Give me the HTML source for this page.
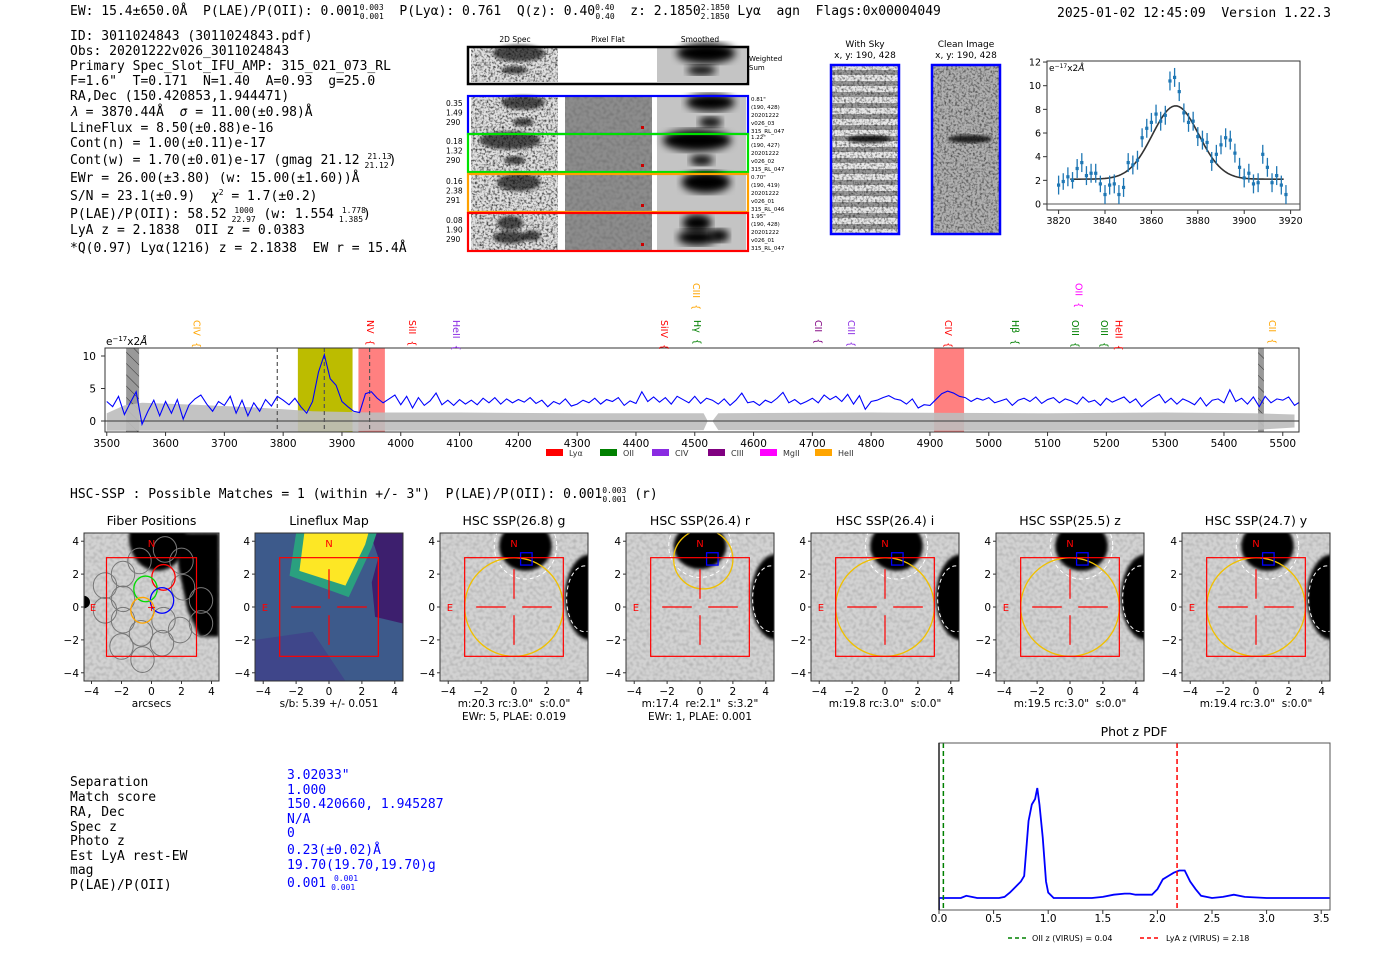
<!DOCTYPE html>
<html><head><meta charset="utf-8">
<style>
html,body{margin:0;padding:0;background:#fff;}
svg{display:block;}
text{white-space:pre;}
.mono{font-family:"DejaVu Sans Mono","Liberation Mono",monospace;}
.sans{font-family:"DejaVu Sans","Liberation Sans",sans-serif;}
</style></head>
<body>
<svg id="fig" width="1400" height="953" viewBox="0 0 1400 953" xmlns="http://www.w3.org/2000/svg" xml:space="preserve">
<defs>
<filter id="nz" x="0" y="0" width="100%" height="100%"><feTurbulence type="fractalNoise" baseFrequency="0.45" numOctaves="2" seed="3"/><feColorMatrix type="matrix" values="0 0 0 0 0  0 0 0 0 0  0 0 0 0 0  -2.4 0 0 0 1.35"/></filter>
<filter id="nz2" x="0" y="0" width="100%" height="100%"><feTurbulence type="fractalNoise" baseFrequency="0.3" numOctaves="1" seed="7"/><feColorMatrix type="matrix" values="0 0 0 0 0  0 0 0 0 0  0 0 0 0 0  -1.6 0 0 0 0.95"/></filter>
<filter id="bl"><feGaussianBlur stdDeviation="4"/></filter>
<filter id="bl2"><feGaussianBlur stdDeviation="1.5"/></filter>
<pattern id="hatch" width="8" height="8" patternUnits="userSpaceOnUse" patternTransform="rotate(-45)"><rect width="8" height="8" fill="#999"/><line x1="0" y1="0" x2="0" y2="8" stroke="#333" stroke-width="1"/></pattern>
<clipPath id="specclip"><rect x="105" y="348" width="1194" height="84"/></clipPath>
<clipPath id="fitclip"><rect x="1047" y="61" width="253" height="149"/></clipPath>
<clipPath id="pdfclip"><rect x="939" y="743" width="391" height="167"/></clipPath>
</defs>

<g class="mono" font-size="13" fill="#000">
<text x="70" y="15">EW: 15.4±650.0Å  P(LAE)/P(OII): 0.001<tspan font-size="8" dy="-5">0.003</tspan><tspan font-size="8" dx="-24" dy="9">0.001</tspan><tspan dy="-4">  P(Lyα): 0.761  Q(z): 0.40</tspan><tspan font-size="8" dy="-5">0.40</tspan><tspan font-size="8" dx="-19" dy="9">0.40</tspan><tspan dy="-4">  z: 2.1850</tspan><tspan font-size="8" dy="-5">2.1850</tspan><tspan font-size="8" dx="-29" dy="9">2.1850</tspan><tspan dy="-4"> Lyα  agn  Flags:0x00004049</tspan></text>
<text x="1057" y="17">2025-01-02 12:45:09  Version 1.22.3</text>
</g>

<g class="mono" font-size="13" fill="#000">
<text x="70" y="40">ID: 3011024843 (3011024843.pdf)</text>
<text x="70" y="55">Obs: 20201222v026_3011024843</text>
<text x="70" y="70">Primary Spec_Slot_IFU_AMP: 315_021_073_RL</text>
<text x="70" y="85">F=1.6"  T=0.171  N=1.40  A=0.93  g=25.0</text>
<text x="70" y="100">RA,Dec (150.420853,1.944471)</text>
<text x="70" y="116"><tspan font-style="italic">λ</tspan> = 3870.44Å  <tspan font-style="italic">σ</tspan> = 11.00(±0.98)Å</text>
<text x="70" y="132">LineFlux = 8.50(±0.88)e-16</text>
<text x="70" y="147">Cont(n) = 1.00(±0.11)e-17</text>
<text x="70" y="164">Cont(w) = 1.70(±0.01)e-17 (gmag 21.12 <tspan font-size="8" dy="-5">21.13</tspan><tspan font-size="8" dx="-27" dy="9">21.12</tspan><tspan dy="-4">)</tspan></text>
<text x="70" y="182">EWr = 26.00(±3.80) (w: 15.00(±1.60))Å</text>
<text x="70" y="200">S/N = 23.1(±0.9)  <tspan font-style="italic">χ</tspan><tspan font-size="8" dy="-5">2</tspan><tspan dy="5"> = 1.7(±0.2)</tspan></text>
<text x="70" y="218">P(LAE)/P(OII): 58.52 <tspan font-size="8" dy="-5">1000</tspan><tspan font-size="8" dx="-22" dy="9">22.97</tspan><tspan dy="-4"> (w: 1.554 </tspan><tspan font-size="8" dy="-5">1.778</tspan><tspan font-size="8" dx="-27" dy="9">1.385</tspan><tspan dy="-4">)</tspan></text>
<text x="70" y="234">LyA z = 2.1838  OII z = 0.0383</text>
<text x="70" y="252">*Q(0.97) Lyα(1216) z = 2.1838  EW r = 15.4Å</text>
</g>

<g id="spec2d"></g>
<g id="skycut"></g>
<g id="fitpanel"></g>
<g id="specpanel"></g>

<text x="70" y="498" class="mono" font-size="13">HSC-SSP : Possible Matches = 1 (within +/- 3")  P(LAE)/P(OII): 0.001<tspan font-size="8" dy="-5">0.003</tspan><tspan font-size="8" dx="-24" dy="9">0.001</tspan><tspan dy="-4"> (r)</tspan></text>

<g id="cutouts"></g>

<g class="mono" font-size="13">
<g fill="#000">
<text x="70" y="786">Separation</text><text x="70" y="801">Match score</text><text x="70" y="816">RA, Dec</text><text x="70" y="831">Spec z</text><text x="70" y="845">Photo z</text><text x="70" y="860">Est LyA rest-EW</text><text x="70" y="874">mag</text><text x="70" y="889">P(LAE)/P(OII)</text>
</g>
<g fill="#0000ff">
<text x="287" y="779">3.02033"</text><text x="287" y="794">1.000</text><text x="287" y="808">150.420660, 1.945287</text><text x="287" y="823">N/A</text><text x="287" y="837">0</text><text x="287" y="854">0.23(±0.02)Å</text><text x="287" y="869">19.70(19.70,19.70)g</text><text x="287" y="887">0.001 <tspan font-size="8" dy="-6">0.001</tspan><tspan font-size="8" dx="-27" dy="9">0.001</tspan></text>
</g>
</g>

<g id="pdfpanel"></g>
</svg>

<script>
const specStart = 3500, specStep = 10;
const specFlux = [3.0,2.2,3.8,1.0,2.8,4.5,-0.5,1.5,3.2,0.8,
3.0,1.2,3.3,0.3,2.5,3.4,4.0,2.6,1.5,3.0,
2.4,3.8,1.2,3.2,0.8,2.8,1.5,3.3,2.3,3.8,
3.2,2.5,3.5,2.2,1.2,3.0,7.5,10.2,6.5,5.5,
3.0,2.2,1.5,1.3,4.2,4.5,3.5,2.8,3.4,4.0,
2.5,3.8,2.0,3.6,2.4,3.1,4.3,2.5,3.2,2.4,
3.3,2.6,3.2,2.5,3.5,2.8,3.6,2.6,3.4,2.8,
3.3,2.9,3.6,2.7,3.2,2.2,3.0,2.6,3.4,2.3,
2.6,3.2,2.8,3.5,2.6,3.3,3.0,3.6,2.4,3.1,
2.7,4.5,3.0,3.7,2.9,3.6,2.6,3.8,3.3,2.8,
3.8,2.7,3.5,3.2,2.6,3.4,2.4,3.2,4.3,2.8,
3.0,2.4,3.2,2.8,3.5,4.4,2.8,3.3,2.6,3.0,
3.5,2.8,4.0,3.3,3.8,3.0,4.1,2.6,3.9,1.8,
3.0,3.2,3.6,3.9,3.4,3.2,2.6,3.4,2.0,2.5,
2.4,3.3,4.2,4.6,4.3,3.8,3.6,3.0,3.5,3.2,
3.6,2.8,3.1,3.4,2.4,3.2,3.5,3.0,3.7,2.7,
3.3,3.6,2.8,3.4,3.1,2.6,3.7,2.9,3.2,2.4,
3.5,2.9,3.3,3.7,2.8,3.4,2.2,3.0,3.6,4.1,
2.8,3.5,2.6,3.4,3.0,2.5,3.6,2.3,3.2,3.4,
2.8,4.8,3.0,3.5,2.6,3.7,2.2,3.8,2.8,3.4,
3.2,3.7,2.4,3.0];
const errWave = [3500,3530,3560,3650,3750,3800,3850,3900,3950,4100,4300,4515,4522,4530,4540,4800,5100,5300,5450,5520];
const errHi   = [1.2,2.4,2.8,2.5,2.1,1.8,1.5,1.4,1.3,1.3,1.2,1.2,0,0,1.2,1.3,1.2,1.3,1.2,1.0];
const errLo   = [-1.5,-1.5,-1.5,-1.5,-1.6,-1.6,-1.7,-1.6,-1.5,-1.5,-1.5,-1.4,0,0,-1.4,-1.5,-1.5,-1.4,-1.4,-1.0];
const specTicks = [3500,3600,3700,3800,3900,4000,4100,4200,4300,4400,4500,4600,4700,4800,4900,5000,5100,5200,5300,5400,5500];
const specYTicks = [0,5,10];
const lineNames  = ["CIV","NV","SiII","HeII","SiIV","CIII","Hγ","CII","CIII","CIV","Hβ","OIII","OII","OIII","HeII","CII"];
const lineWaves  = [3653,3948,4019,4094,4448,4502,4504,4710,4766,4931,5045,5147,5153,5196,5221,5482];
const lineColors = ["#ffa500","#ff0000","#ff0000","#8a2be2","#ff0000","#ffa500","#008000","#800080","#8a2be2","#ff0000","#008000","#008000","#ff00ff","#008000","#ff0000","#ffa500"];
const lineHigh   = [0,0,0,0,0,1,0,0,0,0,0,0,1,0,0,0];
const legNames = ["Lyα","OII","CIV","CIII","MgII","HeII"];
const legColors = ["#ff0000","#008000","#8a2be2","#800080","#ff00ff","#ffa500"];

const fitWave = [3820,3822,3824,3826,3828,3830,3832,3834,3836,3838,3840,3842,3844,3846,3848,3850,3852,3854,3856,3858,3860,3862,3864,3866,3868,3870,3872,3874,3876,3878,3880,3882,3884,3886,3888,3890,3892,3894,3896,3898,3900,3902,3904,3906,3908,3910,3912,3914,3916,3918];
const fitFlux = [1.6,1.9,2.3,2.0,3.0,3.5,2.4,2.6,2.6,1.7,0.8,1.6,1.7,0.8,1.4,3.5,3.3,3.7,5.6,6.4,6.9,7.6,7.0,7.5,10.4,10.7,9.5,7.7,6.9,7.0,5.7,5.4,5.2,3.6,4.2,5.0,5.6,5.4,4.3,3.1,2.2,2.6,1.7,1.8,4.2,3.1,1.8,2.4,1.6,0.8];
const fitErr = [0.8,0.7,0.8,0.7,0.8,0.8,0.8,0.8,0.8,0.7,0.8,0.8,0.8,0.8,0.8,0.8,0.8,0.8,0.8,0.8,0.8,0.8,0.8,0.8,0.8,0.8,0.8,0.8,0.8,0.8,0.8,0.8,0.8,0.8,0.8,0.8,0.8,0.8,0.8,0.8,0.8,0.8,0.8,0.8,0.8,0.8,0.8,0.8,0.8,0.8];
const fitModel = [3870.44, 10.0, 6.2, 2.1];
const fitXTicks = [3820,3840,3860,3880,3900,3920];
const fitYTicks = [0,2,4,6,8,10,12];

const pdfZ = [0,0.05,0.1,0.15,0.2,0.25,0.3,0.35,0.4,0.5,0.55,0.6,0.65,0.7,0.75,0.78,0.8,0.82,0.85,0.88,0.9,0.92,0.95,0.98,1.0,1.05,1.2,1.4,1.5,1.6,1.7,1.75,1.8,1.9,1.95,2.0,2.05,2.1,2.15,2.2,2.25,2.3,2.35,2.4,2.5,2.6,2.7,2.8,3.0,3.3,3.6];
const pdfP = [0,0,0,0,0,0.02,0.01,0,0,0,0,0.01,0.05,0.1,0.15,0.2,0.45,0.7,0.85,0.9,1.0,0.85,0.55,0.15,0.05,0,0,0,0.01,0.03,0.04,0.04,0.03,0.03,0.03,0.08,0.17,0.2,0.23,0.25,0.25,0.15,0.08,0.02,0,0.01,0.03,0.01,0,0,0];
const pdfTicks = [0.0,0.5,1.0,1.5,2.0,2.5,3.0,3.5];
const zOII = 0.04, zLya = 2.18;

const NS="http://www.w3.org/2000/svg";
function mk(parent, tag, attrs, txt){const e=document.createElementNS(NS,tag);for(const k in attrs)e.setAttribute(k,attrs[k]);if(txt!==undefined)e.textContent=txt;parent.appendChild(e);return e;}
const SANS='"DejaVu Sans","Liberation Sans",sans-serif';

(function(){
  const g=document.getElementById('specpanel');
  const X=w=>105+(w-3497)*0.588, Y=f=>421-f*6.5;
  const cg=mk(g,'g',{'clip-path':'url(#specclip)'});
  let r;
  r=mk(cg,'rect',{x:X(3533),y:348,width:X(3555)-X(3533),height:84,fill:'url(#hatch)'});
  
  r=mk(cg,'rect',{x:X(3825),y:348,width:X(3918)-X(3825),height:84,fill:'#bcbc00'});
  
  r=mk(cg,'rect',{x:X(3928),y:348,width:X(3973)-X(3928),height:84,fill:'#ff8080'});
  
  r=mk(cg,'rect',{x:X(4907),y:348,width:X(4958)-X(4907),height:84,fill:'#ff8080'});
  
  r=mk(cg,'rect',{x:X(5458),y:348,width:X(5468)-X(5458),height:84,fill:'url(#hatch)'});
  
  let pts=[];
  for(let i=0;i<errWave.length;i++)pts.push(X(errWave[i])+','+Y(errHi[i]));
  for(let i=errWave.length-1;i>=0;i--)pts.push(X(errWave[i])+','+Y(errLo[i]));
  const band=mk(cg,'polygon',{points:pts.join(' '),fill:'#bdbdbd','fill-opacity':0.9});
  
  mk(cg,'line',{x1:105,x2:1299,y1:Y(0),y2:Y(0),stroke:'#555','stroke-width':1.2});
  [3790,3870,3947].forEach(w=>{mk(cg,'line',{x1:X(w),x2:X(w),y1:348,y2:432,stroke:'#555','stroke-width':1.2,'stroke-dasharray':'4,3'});});
  const sp=specFlux.map((f,i)=>X(specStart+i*specStep)+','+Y(f)).join(' ');
  const pl=mk(cg,'polyline',{points:sp,fill:'none',stroke:'#0000ff','stroke-width':1.1});
  
  mk(g,'rect',{x:105,y:348,width:1194,height:84,fill:'none',stroke:'#333','stroke-width':1});
  specTicks.forEach(t=>{mk(g,'line',{x1:X(t),x2:X(t),y1:432,y2:436,stroke:'#333'});
    const tx=mk(g,'text',{x:X(t),y:447,'text-anchor':'middle','font-size':10.5,'font-family':SANS},t);
    });
  specYTicks.forEach(t=>{mk(g,'line',{x1:101,x2:105,y1:Y(t),y2:Y(t),stroke:'#333'});
    mk(g,'text',{x:96,y:Y(t)+4,'text-anchor':'end','font-size':10.5,'font-family':SANS},t);});
  const u=mk(g,'text',{x:106,y:345,'font-size':10.5,'font-family':SANS},'');
  u.innerHTML='e<tspan font-size="7" dy="-4">−17</tspan><tspan dy="4">x2</tspan><tspan font-style="italic">Å</tspan>';
  
  lineNames.forEach((n,i)=>{const x=X(lineWaves[i]);const top=lineHigh[i]?283:320;
    const t=mk(g,'text',{x:0,y:0,transform:`translate(${x-3},${top}) rotate(90)`,'font-size':9.5,'font-family':SANS,fill:lineColors[i]},n+'  {');
    });
  const lx=[546,600,652,708,760,815];
  legNames.forEach((n,i)=>{const r=mk(g,'rect',{x:lx[i],y:449,width:17,height:7,fill:legColors[i]});
    
    mk(g,'text',{x:lx[i]+23,y:456,'font-size':8,'font-family':SANS,fill:'#333'},n);});
})();

(function(){
  const g=document.getElementById('fitpanel');
  const X=w=>1047+(w-3815)*2.32, Y=f=>204-f*11.83;
  mk(g,'rect',{x:1047,y:61,width:253,height:149,fill:'#fff',stroke:'#333'});
  const cg=mk(g,'g',{'clip-path':'url(#fitclip)'});
  mk(cg,'line',{x1:1047,x2:1300,y1:Y(0),y2:Y(0),stroke:'#555'});
  let m=[];for(let w=3825;w<=3917;w+=1){const[c,s,a,b]=fitModel;m.push(X(w)+','+Y(b+a*Math.exp(-0.5*((w-c)/s)**2)));}
  const ml=mk(cg,'polyline',{points:m.join(' '),fill:'none',stroke:'#333','stroke-width':1.6});
  
  fitWave.forEach((w,i)=>{
    mk(cg,'line',{x1:X(w),x2:X(w),y1:Y(fitFlux[i]-fitErr[i]),y2:Y(fitFlux[i]+fitErr[i]),stroke:'#1f77b4','stroke-width':1.3});
    const c=mk(cg,'rect',{x:X(w)-1.6,y:Y(fitFlux[i])-1.6,width:3.2,height:3.2,fill:'#1f77b4'});
    });
  fitXTicks.forEach(t=>{mk(g,'line',{x1:X(t),x2:X(t),y1:210,y2:214,stroke:'#333'});mk(g,'text',{x:X(t),y:224,'text-anchor':'middle','font-size':9.5,'font-family':SANS},t);});
  fitYTicks.forEach(t=>{mk(g,'line',{x1:1043,x2:1047,y1:Y(t),y2:Y(t),stroke:'#333'});mk(g,'text',{x:1041,y:Y(t)+3.5,'text-anchor':'end','font-size':9.5,'font-family':SANS},t);});
  const u=mk(g,'text',{x:1049,y:71,'font-size':9,'font-family':SANS},'');
  u.innerHTML='e<tspan font-size="6" dy="-3">−17</tspan><tspan dy="3">x2</tspan><tspan font-style="italic">Å</tspan>';
})();

(function(){
  const g=document.getElementById('spec2d');
  [['2D Spec',515],['Pixel Flat',608],['Smoothed',700]].forEach(([t,x])=>mk(g,'text',{x:x,y:42,'text-anchor':'middle','font-size':7.5,'font-family':SANS},t));
  function stamp(y,h,flat,blobs){
    mk(g,'rect',{x:471,y:y,width:87,height:h,fill:'#e0e0e0'});
    mk(g,'rect',{x:471,y:y,width:87,height:h,filter:'url(#nz)',fill:'#000',opacity:0.8});
    blobs.forEach(b=>mk(g,'ellipse',{cx:471+b[0]*87,cy:y+b[1]*h,rx:b[2]*87,ry:b[3]*h,fill:'#111',opacity:0.7,filter:'url(#bl2)'}));
    if(flat){mk(g,'rect',{x:565,y:y,width:87,height:h,fill:'#8c8c8c'});mk(g,'rect',{x:565,y:y,width:87,height:h,filter:'url(#nz2)',opacity:0.2});mk(g,'rect',{x:641,y:y+h-7,width:3,height:3,fill:'#c00'});}
    mk(g,'rect',{x:657,y:y,width:89,height:h,fill:'#c4c4c4'});
    blobs.forEach(b=>mk(g,'ellipse',{cx:657+b[0]*89,cy:y+b[1]*h,rx:b[2]*89*1.1,ry:b[3]*h*1.2,fill:'#000',filter:'url(#bl)'}));
  }
  stamp(48,34,false,[[0.55,0.15,0.3,0.25],[0.5,0.65,0.15,0.12]]);
  mk(g,'rect',{x:468,y:47,width:280,height:37,fill:'none',stroke:'#000','stroke-width':2.5});
  mk(g,'text',{x:749,y:61,'font-size':7,'font-family':SANS},'Weighted');mk(g,'text',{x:749,y:70,'font-size':7,'font-family':SANS},'Sum');
  const rows=[[96,'#0000ff',['0.35','1.49','290'],['0.81"','(190, 428)','20201222','v026_03','315_RL_047'],[[0.6,0.15,0.25,0.2],[0.6,0.7,0.12,0.12]]],
              [134,'#00e000',['0.18','1.32','290'],['1.22"','(190, 427)','20201222','v026_02','315_RL_047'],[[0.45,0.15,0.35,0.25],[0.5,0.7,0.12,0.12]]],
              [174,'#ffa000',['0.16','2.38','291'],['0.70"','(190, 419)','20201222','v026_01','315_RL_046'],[[0.55,0.2,0.25,0.25]]],
              [213,'#ff0000',['0.08','1.90','290'],['1.95"','(190, 428)','20201222','v026_01','315_RL_047'],[[0.45,0.25,0.15,0.2],[0.45,0.65,0.2,0.18],[0.7,0.6,0.1,0.15]]]];
  rows.forEach(([y,c,lt,rt,bl],k)=>{
    stamp(y+1,36,true,bl);
    const b=mk(g,'rect',{x:468,y:y,width:280,height:38,fill:'none',stroke:c,'stroke-width':2.2});
    
    lt.forEach((t,i)=>mk(g,'text',{x:446,y:y+10+i*9.5,'font-size':7.5,'font-family':SANS},t));
    rt.forEach((t,i)=>mk(g,'text',{x:751,y:y+5+i*8,'font-size':5.5,'font-family':SANS},t));
  });
})();

(function(){
  const g=document.getElementById('skycut');
  [['With Sky',865,831],['Clean Image',966,932]].forEach(([t,cx,x],k)=>{
    mk(g,'text',{x:cx,y:47,'text-anchor':'middle','font-size':9,'font-family':SANS},t);
    mk(g,'text',{x:cx,y:58,'text-anchor':'middle','font-size':9,'font-family':SANS},'x, y: 190, 428');
    mk(g,'rect',{x:x,y:65,width:68,height:169,fill:k?'#b0b0b0':'#e8e8e8'});
    if(!k){for(let i=0;i<15;i++)mk(g,'rect',{x:x,y:70+i*11,width:68,height:5,fill:'#555',opacity:0.55});}
    mk(g,'rect',{x:x,y:65,width:68,height:169,filter:'url(#nz)',opacity:k?0.6:0.6});
    mk(g,'ellipse',{cx:x+38,cy:139,rx:22,ry:4,fill:'#000',opacity:0.8,filter:'url(#bl2)'});
    const b=mk(g,'rect',{x:x,y:65,width:68,height:169,fill:'none',stroke:'#0000ff','stroke-width':2.5});
    
  });
})();

(function(){
  const g=document.getElementById('cutouts');
  const lefts=[84,255,440,626,811,996,1182];
  const titles=['Fiber Positions','Lineflux Map','HSC SSP(26.8) g','HSC SSP(26.4) r','HSC SSP(26.4) i','HSC SSP(25.5) z','HSC SSP(24.7) y'];
  const caps=[['arcsecs'],['s/b: 5.39 +/- 0.051'],['m:20.3 rc:3.0"  s:0.0"','EWr: 5, PLAE: 0.019'],['m:17.4  re:2.1"  s:3.2"','EWr: 1, PLAE: 0.001'],['m:19.8 rc:3.0"  s:0.0"'],['m:19.5 rc:3.0"  s:0.0"'],['m:19.4 rc:3.0"  s:0.0"']];
  const ticks=[-4,-2,0,2,4];
  lefts.forEach((L,p)=>{
    const W=p===0?135:148, H=148, T=533;
    const sx=W/9, sy=H/9, cx=L+W/2, cy=T+H/2;
    const X=a=>cx+a*sx, Y=b=>cy-b*sy;
    const pg=mk(g,'g',{});
    
    const cid='cc'+p;const cp=mk(pg,'clipPath',{id:cid});mk(cp,'rect',{x:L,y:T,width:W,height:H});
    const ig=mk(pg,'g',{'clip-path':`url(#${cid})`});
    if(p===1){
      mk(ig,'rect',{x:L,y:T,width:W,height:H,fill:'#3d5a8b'});
      mk(ig,'polygon',{points:[[-4.5,-4.5],[1,-4.5],[-1,-1.5],[-4.5,-2]].map(q=>X(q[0])+','+Y(q[1])).join(' '),fill:'#40418a',opacity:0.8});
      mk(ig,'polygon',{points:[[2.5,4.5],[4.5,4.5],[4.5,-1],[2.8,-0.6],[2.6,1.5],[3,3]].map(q=>X(q[0])+','+Y(q[1])).join(' '),fill:'#3d1f6e'});
      mk(ig,'polygon',{points:[[-2.0,4.5],[2.9,4.5],[2.6,3.6],[1.2,0.6],[-2.4,1.9]].map(q=>X(q[0])+','+Y(q[1])).join(' '),fill:'#2aa07f'});
      mk(ig,'polygon',{points:[[-1.5,4.5],[2.4,4.5],[2.2,3.8],[1.0,1.3],[-1.8,2.2]].map(q=>X(q[0])+','+Y(q[1])).join(' '),fill:'#fde725'});
    } else {
      mk(ig,'rect',{x:L,y:T,width:W,height:H,fill:'#d2d2d2'});
      mk(ig,'rect',{x:L,y:T,width:W,height:H,filter:'url(#nz2)',opacity:0.2});
      if(p===0){
        mk(ig,'ellipse',{cx:X(0.4),cy:Y(4.2),rx:1.9*sx,ry:2.0*sy,fill:'#000',filter:'url(#bl2)'});
        mk(ig,'polygon',{points:[[1.6,4.5],[4.5,4.5],[4.5,-1.8],[3.2,-1.8],[2.4,-0.2],[1.8,2.4]].map(q=>X(q[0])+','+Y(q[1])).join(' '),fill:'#000',filter:'url(#bl2)'});
        mk(ig,'ellipse',{cx:X(-4.6),cy:Y(0.3),rx:0.5*sx,ry:0.4*sy,fill:'#000'});
      } else {
        const top=p===3?[0,3.7,1.6,1.4]:[0.7,3.7,1.6,1.5];
        mk(ig,'ellipse',{cx:X(top[0]),cy:Y(top[1]),rx:top[2]*sx,ry:top[3]*sy,fill:'#000',filter:'url(#bl2)'});
        mk(ig,'ellipse',{cx:X(4.6),cy:Y(0.6),rx:1.5*sx,ry:2.6*sy,fill:'#000',filter:'url(#bl2)'});
        mk(ig,'ellipse',{cx:X(top[0]),cy:Y(top[1]),rx:(top[2]+0.3)*sx,ry:(top[3]+0.5)*sy,fill:'none',stroke:'#fff','stroke-dasharray':'4,3','stroke-width':1});
        mk(ig,'ellipse',{cx:X(4.3),cy:Y(0.5),rx:1.1*sx,ry:2.0*sy,fill:'none',stroke:'#fff','stroke-dasharray':'4,3','stroke-width':1});
      }
    }
    if(p===0){
      const fib=[[-3.1,1.3],[-1.9,2.0],[-3.1,-0.2],[-1.9,0.5],[-1.9,-0.8],[-0.7,-1.6],[-2.0,-2.4],[-0.6,-3.2],[0.7,-2.2],[0.8,-0.8],[1.9,-1.4],[2.1,1.2],[3.3,0.4],[3.3,-1.0],[0.9,3.5],[2.0,2.8],[-0.8,2.8]];
      fib.forEach(f=>mk(ig,'ellipse',{cx:X(f[0]),cy:Y(f[1]),rx:0.78*sx,ry:0.78*sy,fill:'none',stroke:'#777','stroke-width':1}));
      [[0.8,1.8,'#ff0000'],[-0.4,1.1,'#00dd00'],[0.7,0.4,'#0000ff'],[-0.6,-0.2,'#ffa500']].forEach(f=>{
        const e=mk(ig,'ellipse',{cx:X(f[0]),cy:Y(f[1]),rx:0.78*sx,ry:0.78*sy,fill:'none',stroke:f[2],'stroke-width':1.3});
        });
      mk(ig,'text',{x:X(0),y:Y(0)+4,'text-anchor':'middle','font-size':11,fill:'#f00','font-family':SANS},'+');
    }
    if(p>=2){
      const yc=p===3?[0.2,2.9,1.8]:[0,0,3];
      mk(ig,'ellipse',{cx:X(yc[0]),cy:Y(yc[1]),rx:yc[2]*sx,ry:yc[2]*sy,fill:'none',stroke:'#f0c000','stroke-width':1.3});
      mk(ig,'rect',{x:X(0.4),y:Y(3.3),width:0.7*sx,height:0.75*sy,fill:'none',stroke:'#0000ff','stroke-width':1.3});
    }
    mk(ig,'rect',{x:X(-3),y:Y(3),width:6*sx,height:6*sy,fill:'none',stroke:'#ff0000','stroke-width':1.2});
    if(p>0){[[-2.3,0,-0.5,0],[0.5,0,2.3,0],[0,-2.3,0,-0.5],[0,0.5,0,2.3]].forEach(l=>mk(ig,'line',{x1:X(l[0]),y1:Y(l[1]),x2:X(l[2]),y2:Y(l[3]),stroke:'#ff0000','stroke-width':1.2}));}
    mk(pg,'text',{x:X(0),y:Y(3.9)+4,'text-anchor':'middle','font-size':10,fill:'#f00','font-family':SANS},'N');
    mk(pg,'text',{x:X(-3.9),y:Y(0)+4,'text-anchor':'middle','font-size':10,fill:'#f00','font-family':SANS},'E');
    mk(pg,'rect',{x:L,y:T,width:W,height:H,fill:'none',stroke:'#333'});
    mk(pg,'text',{x:cx,y:525,'text-anchor':'middle','font-size':12.5,'font-family':SANS},titles[p]);
    ticks.forEach(t=>{
      mk(pg,'line',{x1:X(t),x2:X(t),y1:T+H,y2:T+H+3,stroke:'#333'});
      mk(pg,'text',{x:X(t),y:T+H+14,'text-anchor':'middle','font-size':10.5,'font-family':SANS},t<0?'−'+(-t):t);
      mk(pg,'line',{x1:L-3,x2:L,y1:Y(t),y2:Y(t),stroke:'#333'});
      mk(pg,'text',{x:L-5,y:Y(t)+4,'text-anchor':'end','font-size':10.5,'font-family':SANS},t<0?'−'+(-t):t);
    });
    caps[p].forEach((c,i)=>mk(pg,'text',{x:cx,y:707+i*13,'text-anchor':'middle','font-size':10.5,'font-family':SANS},c));
  });
})();

(function(){
  const g=document.getElementById('pdfpanel');
  const X=z=>939+z*109.2, Y=v=>898-v*110;
  mk(g,'text',{x:1134,y:736,'text-anchor':'middle','font-size':12.5,'font-family':SANS},'Phot z PDF');
  const cg=mk(g,'g',{'clip-path':'url(#pdfclip)'});
  const pl=mk(cg,'polyline',{points:pdfZ.map((z,i)=>X(z)+','+Y(pdfP[i])).join(' '),fill:'none',stroke:'#0000ff','stroke-width':1.8});
  
  mk(cg,'line',{x1:X(0),x2:X(0),y1:898,y2:910,stroke:'#0000ff','stroke-width':1.8});
  const l1=mk(cg,'line',{x1:X(zOII),x2:X(zOII),y1:743,y2:910,stroke:'#008000','stroke-width':1.5,'stroke-dasharray':'5,3'});
  
  const l2=mk(cg,'line',{x1:X(zLya),x2:X(zLya),y1:743,y2:910,stroke:'#ff0000','stroke-width':1.5,'stroke-dasharray':'5,3'});
  
  mk(g,'rect',{x:939,y:743,width:391,height:167,fill:'none',stroke:'#555'});
  mk(g,'line',{x1:939,x2:939,y1:743,y2:910,stroke:'#222','stroke-width':1.5});
  pdfTicks.forEach(t=>{mk(g,'line',{x1:X(t),x2:X(t),y1:910,y2:914,stroke:'#333'});mk(g,'text',{x:X(t),y:922,'text-anchor':'middle','font-size':10.5,'font-family':SANS},t.toFixed(1));});
  mk(g,'line',{x1:1008,x2:1026,y1:938,y2:938,stroke:'#008000','stroke-width':1.5,'stroke-dasharray':'4,3'});
  mk(g,'text',{x:1032,y:941,'font-size':8,'font-family':SANS},'OII z (VIRUS) = 0.04');
  mk(g,'line',{x1:1140,x2:1158,y1:938,y2:938,stroke:'#ff0000','stroke-width':1.5,'stroke-dasharray':'4,3'});
  mk(g,'text',{x:1166,y:941,'font-size':8,'font-family':SANS},'LyA z (VIRUS) = 2.18');
})();
</script>
</body></html>
